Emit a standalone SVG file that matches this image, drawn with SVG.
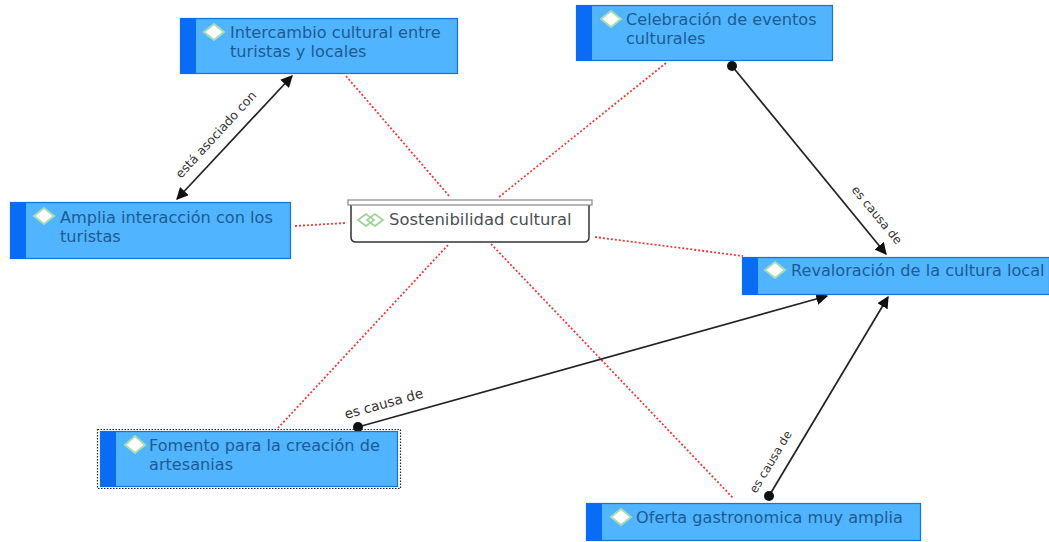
<svg xmlns="http://www.w3.org/2000/svg" width="1049" height="542" viewBox="0 0 1049 542">
<style>
.box{fill:#50b4ff;stroke:#1273d8;stroke-width:1.2}
.bar{fill:#0a6cf5}
.dia{fill:#fff;stroke:#a5dcb4;stroke-width:2}
.t{font-family:"DejaVu Sans",sans-serif;font-size:16.150px;fill:#1c5c93}
.rel{stroke:#222;stroke-width:1.7;fill:none}
.dot{stroke:#ee3b36;stroke-width:1.8;stroke-dasharray:2 2;fill:none}
.lab{font-family:"DejaVu Sans",sans-serif;font-size:12.500px;fill:#333}
</style>
<defs>
<marker id="arr" viewBox="0 0 10 10" refX="9" refY="5" markerWidth="12" markerHeight="12" markerUnits="userSpaceOnUse" orient="auto-start-reverse"><path d="M0 0L10 5L0 10Z" fill="#111"/></marker>
<marker id="ball" viewBox="0 0 10 10" refX="5" refY="5" markerWidth="10" markerHeight="10" markerUnits="userSpaceOnUse"><circle cx="5" cy="5" r="5" fill="#111"/></marker>
</defs>
<rect width="1049" height="542" fill="#fff"/>
<g id="connectors">
<path class="dot" d="M346 76L450 197"/>
<path class="dot" d="M666 63L499 197"/>
<path class="dot" d="M295 226L345 223"/>
<path class="dot" d="M595 237L743 256"/>
<path class="dot" d="M448 245L278 428"/>
<path class="dot" d="M491 244L733 498"/>
<path class="rel" d="M292 76L177 199" marker-start="url(#arr)" marker-end="url(#arr)"/>
<path class="rel" d="M732 66L886 254" marker-start="url(#ball)" marker-end="url(#arr)"/>
<path class="rel" d="M358 427L827 296" marker-start="url(#ball)" marker-end="url(#arr)"/>
<path class="rel" d="M769 496L888 297" marker-start="url(#ball)" marker-end="url(#arr)"/>
<text class="lab" transform="translate(181 179) rotate(-47.500)">está asociado con</text>
<text class="lab" transform="translate(851 190) rotate(50.500)" style="font-size:12px">es causa de</text>
<text class="lab" transform="translate(346 419) rotate(-15.500)" style="font-size:13.600px">es causa de</text>
<text class="lab" transform="translate(756 494) rotate(-59)" style="font-size:11.800px">es causa de</text>
</g>
<g id="node-intercambio">
<rect class="box" x="180.500" y="18.500" width="277" height="55"/><rect class="bar" x="180" y="18" width="16" height="56"/>
<path class="dia" d="M214 24L224 32L214 40L204 32Z"/>
<text class="t" x="230" y="38">Intercambio cultural entre</text><text class="t" x="230" y="57">turistas y locales</text>
</g>
<g id="node-celebracion">
<rect class="box" x="576.500" y="5.500" width="256" height="55"/><rect class="bar" x="576" y="5" width="16" height="56"/>
<path class="dia" d="M611 11L621 19L611 27L601 19Z"/>
<text class="t" x="626" y="25">Celebración de eventos</text><text class="t" x="626" y="44">culturales</text>
</g>
<g id="node-amplia">
<rect class="box" x="10.500" y="202.500" width="280" height="56"/><rect class="bar" x="10" y="202" width="16" height="57"/>
<path class="dia" d="M44 208L54 216L44 224L34 216Z"/>
<text class="t" x="60" y="223">Amplia interacción con los</text><text class="t" x="60" y="242">turistas</text>
</g>
<g id="node-sostenibilidad">
<path d="M351 204V237Q351 242 356 242H584Q589 242 589 237V204" fill="#fff" stroke="#333" stroke-width="1.5"/>
<rect x="348" y="200" width="244" height="5" fill="#fff" stroke="#888" stroke-width="1.2"/>
<path d="M366 214L358 220L366 226L374 220Z" fill="none" stroke="#a3d39c" stroke-width="1.8"/>
<path d="M375 214L367 220L375 226L383 220Z" fill="none" stroke="#a3d39c" stroke-width="1.8"/>
<text x="389" y="225" font-family="DejaVu Sans, sans-serif" font-size="16.400" fill="#4a4f55">Sostenibilidad cultural</text>
</g>
<g id="node-revaloracion">
<rect class="box" x="742.500" y="257.500" width="307" height="37"/><rect class="bar" x="742" y="257" width="16" height="38"/>
<path class="dia" d="M775 262L785 270L775 278L765 270Z"/>
<text class="t" x="791" y="276">Revaloración de la cultura local</text>
</g>
<g id="node-fomento">
<rect x="97.500" y="429.500" width="303" height="59" fill="none" stroke="#222" stroke-width="1.2" stroke-dasharray="1.500 1.500"/>
<rect class="box" x="100.500" y="431.500" width="297" height="55"/><rect class="bar" x="101" y="431" width="15" height="56"/>
<path class="dia" d="M135 436L145 445L135 453L125 445Z"/>
<text class="t" x="149" y="451">Fomento para la creación de</text><text class="t" x="149" y="470">artesanias</text>
</g>
<g id="node-oferta">
<rect class="box" x="586.500" y="503.500" width="334" height="37"/><rect class="bar" x="586" y="503" width="16" height="38"/>
<path class="dia" d="M621 509L631 517L621 525L611 517Z"/>
<text class="t" x="636" y="523">Oferta gastronomica muy amplia</text>
</g>
</svg>
